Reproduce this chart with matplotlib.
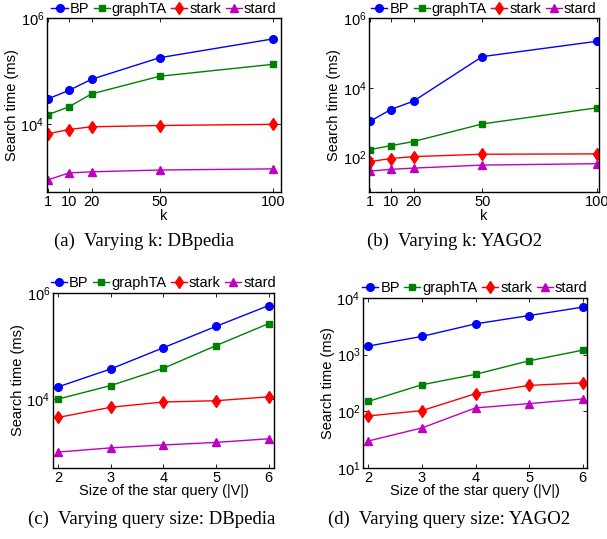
import math
import matplotlib
matplotlib.use("Agg")
import matplotlib.pyplot as plt

plt.rcParams["font.family"] = ["Liberation Sans", "DejaVu Sans"]
plt.rcParams["mathtext.fontset"] = "custom"
plt.rcParams["mathtext.rm"] = "Liberation Sans"
plt.rcParams["mathtext.default"] = "regular"

# x values
k_vals = [1, 10, 20, 50, 100]
qsize = [2, 3, 4, 5, 6]

# (a) Varying k: DBpedia
a_bp = [30000, 43000, 70000, 180000, 410000]
a_graphta = [15000, 21000, 37000, 80000, 135000]
a_stark = [6500, 7800, 8800, 9300, 9800]
a_stard = [870, 1170, 1230, 1330, 1400]

# (b) Varying k: YAGO2
b_bp = [1100, 2400, 4200, 80000, 220000]
b_graphta = [170, 220, 290, 930, 2700]
b_stark = [77, 94, 107, 125, 128]
b_stard = [41, 46, 50, 61, 67]

# (c) Varying query size: DBpedia
c_bp = [17000, 37000, 93000, 235000, 580000]
c_graphta = [10000, 18000, 38000, 102000, 265000]
c_stark = [4500, 7000, 8800, 9300, 11000]
c_stard = [1000, 1200, 1360, 1520, 1780]

# (d) Varying query size: YAGO2
d_bp = [1420, 2100, 3500, 4900, 6900]
d_graphta = [150, 295, 450, 780, 1200]
d_stark = [83, 103, 205, 287, 318]
d_stard = [30, 51, 115, 137, 165]

series_names = ["BP", "graphTA", "stark", "stard"]
colors = ["#0000ff", "#008000", "#ff0000", "#c000c0"]
markers = ["o", "s", "d", "^"]
msizes = [5.5, 4.5, 6, 5.5]

panels = [
    dict(pos=[0.0774, 0.643, 0.386, 0.3228], x=k_vals, xlim=(0.4, 103.5),
         ys=[a_bp, a_graphta, a_stark, a_stard], ylim=(500, 1e6), yticks=[1e4, 1e6],
         xlabel="k", xpad=-0.5, caption="(a)  Varying k: DBpedia", cap=(0.238, 0.553)),
    dict(pos=[0.608, 0.643, 0.379, 0.3228], x=k_vals, xlim=(0.6, 101),
         ys=[b_bp, b_graphta, b_stark, b_stard], ylim=(10, 1e6), yticks=[1e2, 1e4, 1e6],
         xlabel="k", xpad=-0.5, caption="(b)  Varying k: YAGO2", cap=(0.748, 0.553)),
    dict(pos=[0.0873, 0.1317, 0.364, 0.3247], x=qsize, xlim=(1.9, 6.1),
         ys=[c_bp, c_graphta, c_stark, c_stard], ylim=(500, 1e6), yticks=[1e4, 1e6],
         xlabel="Size of the star query (|V|)", xpad=-0.5,
         caption="(c)  Varying query size: DBpedia", cap=(0.25, 0.037)),
    dict(pos=[0.598, 0.1317, 0.369, 0.3154], x=qsize, xlim=(1.9, 6.08),
         ys=[d_bp, d_graphta, d_stark, d_stard], ylim=(10, 1e4),
         yticks=[1e1, 1e2, 1e3, 1e4], xlabel="Size of the star query (|V|)", xpad=-0.5,
         caption="(d)  Varying query size: YAGO2", cap=(0.74, 0.037)),
]

fig = plt.figure(figsize=(6.07, 5.39), dpi=100)

for p in panels:
    ax = fig.add_axes(p["pos"])
    for ys, name, c, m, ms in zip(p["ys"], series_names, colors, markers, msizes):
        ax.plot(p["x"], ys, color=c, marker=m, markersize=ms, linewidth=1,
                markerfacecolor=c, markeredgecolor=c, label=name)
    ax.set_yscale("log")
    ax.set_ylim(*p["ylim"])
    ax.set_xlim(*p["xlim"])
    ax.set_xticks(p["x"])
    ax.set_xticklabels([str(v) for v in p["x"]])
    ax.set_yticks(p["yticks"])
    ax.set_yticklabels([r"$10^{%d}$" % round(math.log10(v)) for v in p["yticks"]])
    ax.minorticks_off()
    ax.tick_params(direction="in", length=3, width=0.6, top=True, right=True,
                   labelsize=10.5, pad=2)
    for s in ax.spines.values():
        s.set_linewidth(1)
    ax.set_xlabel(p["xlabel"], fontsize=10.5, labelpad=p["xpad"])
    ax.set_ylabel("Search time (ms)", fontsize=10.5, labelpad=1)
    ax.legend(loc="lower center", bbox_to_anchor=(0.5, 1.015), ncol=4, frameon=False,
              fontsize=10.5, handlelength=1.1, handletextpad=0.15, columnspacing=0.3,
              borderpad=0, borderaxespad=0)
    fig.text(p["cap"][0], p["cap"][1], p["caption"], ha="center", va="center",
             family="Liberation Serif", fontsize=13.5)

fig.savefig("out.png", dpi=100)
